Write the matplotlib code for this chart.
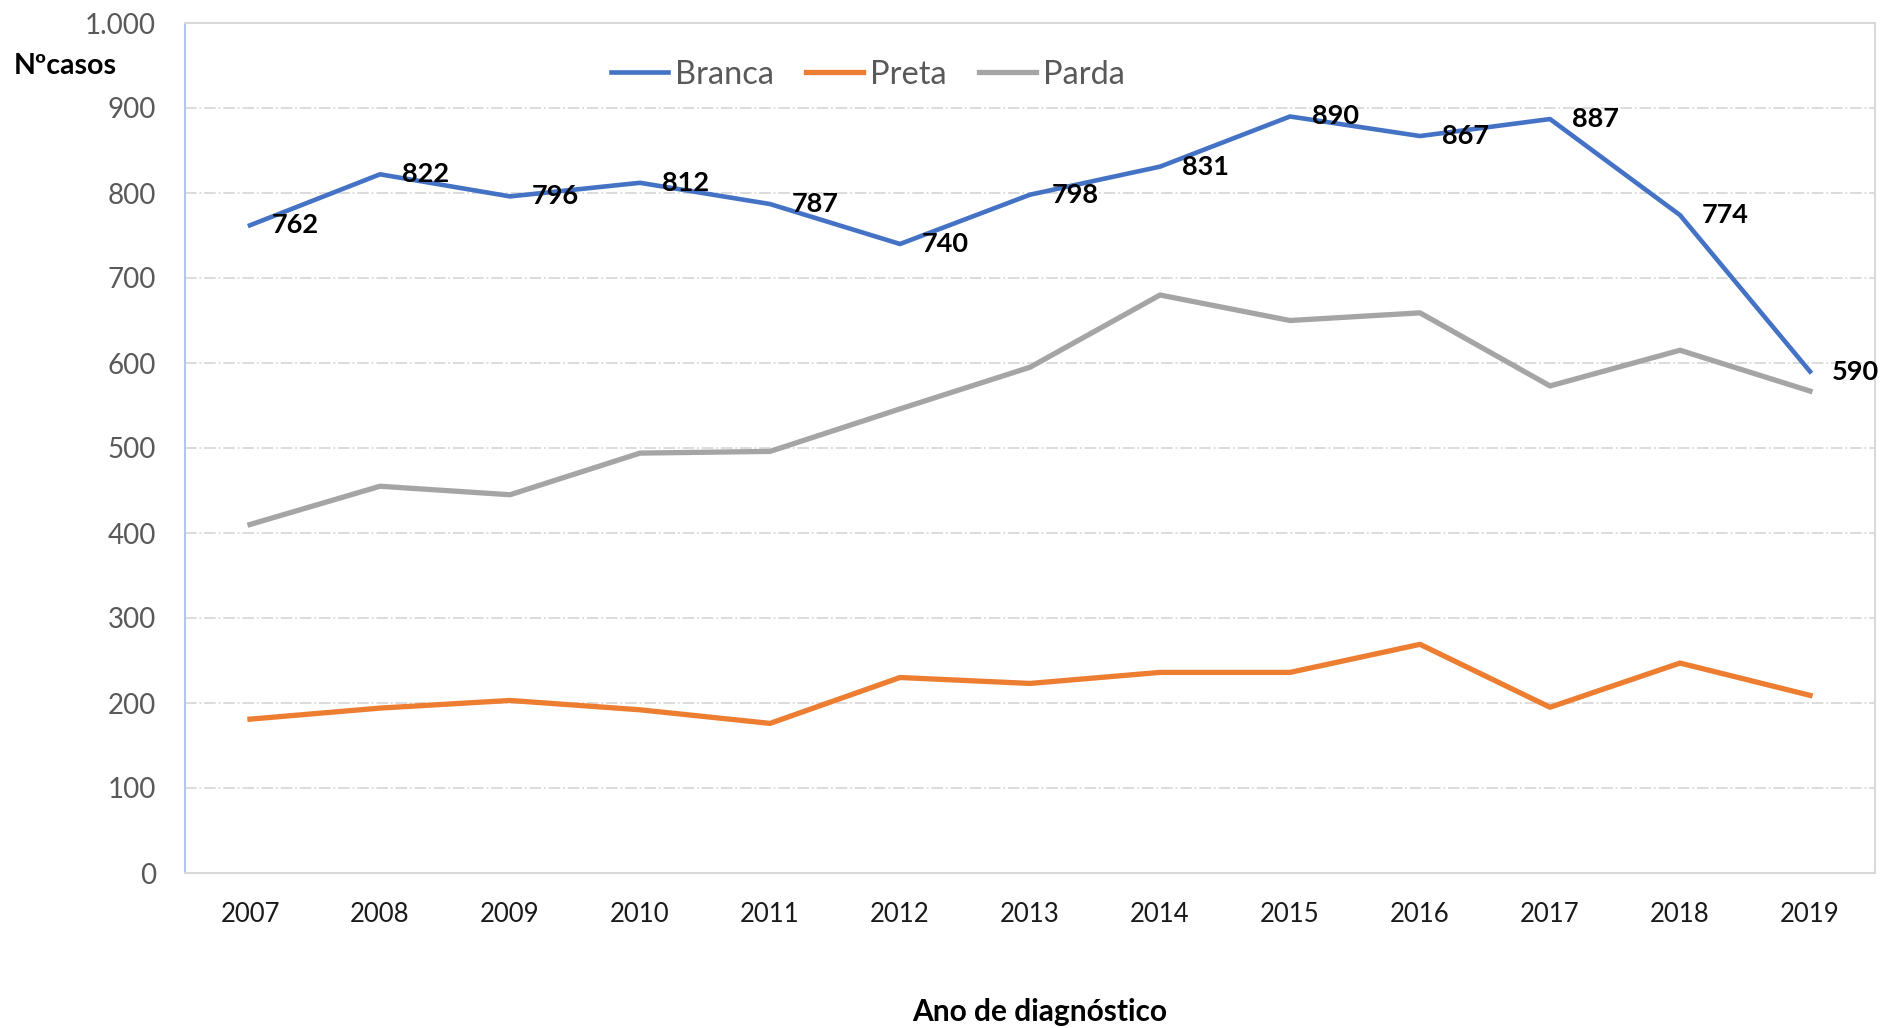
import matplotlib.pyplot as plt
import numpy as np

plt.rcParams['font.family'] = ['Lato', 'DejaVu Sans']

# data
anos   = ['2007', '2008', '2009', '2010', '2011', '2012', '2013',
          '2014', '2015', '2016', '2017', '2018', '2019']
branca = [762, 822, 796, 812, 787, 740, 798, 831, 890, 867, 887, 774, 590]
preta  = [181, 194, 203, 192, 176, 230, 223, 236, 236, 269, 195, 247, 209]
parda  = [410, 455, 445, 494, 496, 546, 595, 680, 650, 659, 573, 615, 567]

y_ticks = [0, 100, 200, 300, 400, 500, 600, 700, 800, 900, 1000]
y_tick_labels = ['0', '100', '200', '300', '400', '500', '600', '700', '800', '900', '1.000']

c_branca = '#4472C4'
c_preta  = '#ED7D31'
c_parda  = '#A5A5A5'

fig = plt.figure(figsize=(18.85, 10.28), dpi=100)
ax = fig.add_axes([185/1885, 1 - 873/1028, 1690/1885, 850/1028])

x = np.arange(len(anos))
ax.plot(x, branca, color=c_branca, lw=3.3, label='Branca', zorder=3)
ax.plot(x, preta,  color=c_preta,  lw=3.8, label='Preta', zorder=3)
ax.plot(x, parda,  color=c_parda,  lw=3.8, label='Parda', zorder=3)

# data labels on the Branca series
for xi, v in zip(x, branca):
    ax.annotate(f'{v}', (xi, v), xytext=(16, 0), textcoords='offset points',
                ha='left', va='center', fontsize=19.5, fontweight='bold', color='black',
                zorder=4)

ax.set_xlim(-0.5, len(anos) - 0.5)
ax.set_ylim(0, 1000)
ax.set_xticks(x)
ax.set_xticklabels(anos)
ax.set_yticks(y_ticks)
ax.set_yticklabels(y_tick_labels)

ax.tick_params(axis='y', length=0, pad=21, labelsize=20, labelcolor='#595959')
ax.tick_params(axis='x', length=0, pad=21, labelsize=18.5, labelcolor='#1a1a1a')

ax.grid(axis='y', color='#D9D9D9', lw=1.3, ls='-.', zorder=0)
ax.set_axisbelow(True)

for s in ['top', 'right', 'bottom']:
    ax.spines[s].set_color('#D9D9D9')
    ax.spines[s].set_linewidth(1.5)
ax.spines['left'].set_color('#B4C7E7')
ax.spines['left'].set_linewidth(1.5)

leg = ax.legend(loc='center', bbox_to_anchor=(0.404, 0.939), ncol=3, frameon=False,
                fontsize=23.5, handlelength=1.75, handletextpad=0.2, columnspacing=1.0)
for t in leg.get_texts():
    t.set_color('#595959')

fig.text(14/1885, 1 - 66/1028, 'Nºcasos', fontsize=20.5, fontweight='bold',
         ha='left', va='center')
fig.text(1040/1885, 1 - 1012/1028, 'Ano de diagnóstico', fontsize=21.5, fontweight='bold',
         ha='center', va='center')

fig.savefig('out.png', dpi=100)
